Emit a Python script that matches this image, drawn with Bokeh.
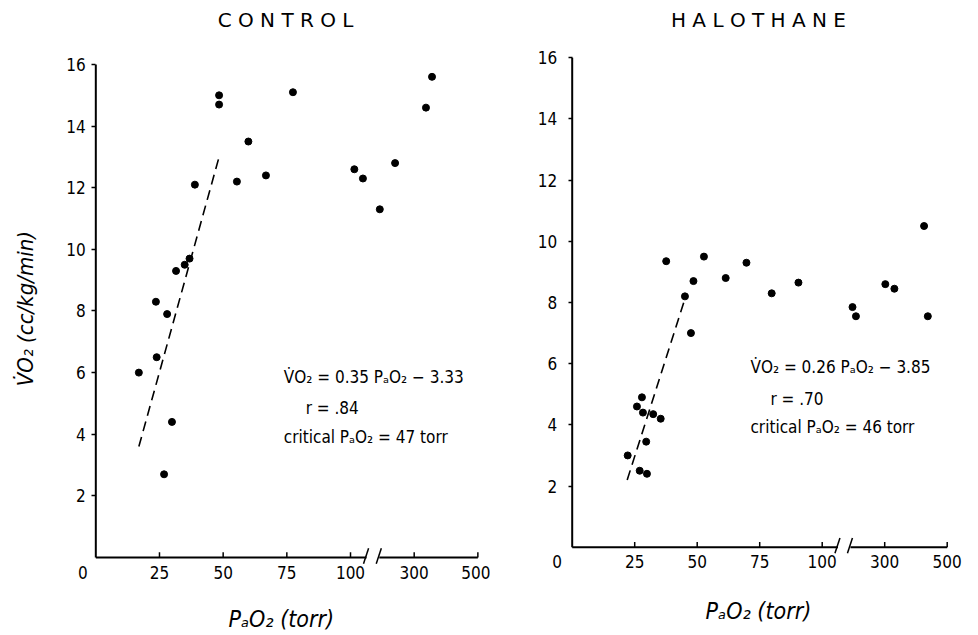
import math
from bokeh.plotting import figure
from bokeh.layouts import row
from bokeh.models import Range1d, FixedTicker, Label
from bokeh.embed import file_html
from bokeh.resources import INLINE

# ---------------- data (PaO2 in torr, VO2 in cc/kg/min) ----------------
x_tick_values = [0, 25, 50, 75, 100, 300, 500]
x_tick_labels = ["0", "25", "50", "75", "100", "300", "500"]
y_tick_values = [2, 4, 6, 8, 10, 12, 14, 16]

control_pao2 = [16.9, 23.6, 23.9, 26.8, 28.0, 29.9, 31.5, 34.9, 36.8, 38.9,
                48.4, 48.4, 55.4, 59.9, 66.8, 77.4, 112, 139, 192, 240, 337, 356]
control_vo2 = [6.0, 8.3, 6.5, 2.7, 7.9, 4.4, 9.3, 9.5, 9.7, 12.1,
               15.0, 14.7, 12.2, 13.5, 12.4, 15.1, 12.6, 12.3, 11.3, 12.8, 14.6, 15.6]
control_fit_pao2 = [16.9, 48.4]
control_fit_vo2 = [3.6, 13.0]

halo_pao2 = [22.2, 25.9, 27.0, 27.9, 28.3, 29.6, 29.9, 32.4, 35.4, 37.6, 45.1, 47.5,
             48.5, 52.7, 61.4, 69.7, 79.8, 90.5, 197, 208, 302, 331, 426, 438]
halo_vo2 = [3.0, 4.6, 2.5, 4.9, 4.4, 3.45, 2.4, 4.35, 4.2, 9.35, 8.2, 7.0,
            8.7, 9.5, 8.8, 9.3, 8.3, 8.65, 7.85, 7.55, 8.6, 8.45, 10.5, 7.55]
halo_fit_pao2 = [22.0, 45.0]
halo_fit_vo2 = [2.2, 8.1]

control_eq = ["V\u0307O\u2082 = 0.35 P\u2090O\u2082 \u2212 3.33", "r = .84",
              "critical  P\u2090O\u2082 = 47 torr"]
halo_eq = ["V\u0307O\u2082 = 0.26 P\u2090O\u2082 \u2212 3.85", "r = .70",
           "critical  P\u2090O\u2082 = 46 torr"]

x_title = "P\u2090O\u2082  (torr)"
y_title = "V\u0307O\u2082  (cc/kg/min)"

FONT = "Liberation Sans Narrow, DejaVu Sans Condensed, sans-serif"
BREAK_LO, BREAK_HI = 106.3, 111.3


def xpos(t, zero_shift):
    """Broken axis: linear 0-100, then compressed 100-500 (200 torr per 25 units).
    The '0' label of the original sits a little left of the axis origin."""
    if t == 0:
        return zero_shift
    v = t if t <= 100 else 100 + (t - 100) / 8.0
    return int(v) if float(v).is_integer() else v


def text(p, x, y, s, size="17px", align="left", style="normal", angle=0.0, font=FONT):
    p.add_layout(Label(x=x, y=y, text=s, text_font=font, text_font_size=size,
                       text_font_style=style, text_align=align, text_baseline="middle",
                       text_color="black", angle=angle))


def panel(width, xr, yr, zero_shift, px, py, fx, fy, title, title_xy, eq, eq_xy,
          xlab_xy, ylab_xy, ytick_standoff, xtick_standoff):
    p = figure(width=width, height=635, output_backend="svg", toolbar_location=None,
               x_range=Range1d(*xr), y_range=Range1d(*yr),
               min_border_left=0, min_border_right=0, min_border_top=0,
               min_border_bottom=0, sizing_mode="fixed")
    p.outline_line_color = None
    p.grid.visible = False
    p.background_fill_color = "white"
    p.border_fill_color = "white"

    # y axis drawn at x = 0
    ya = p.yaxis[0]
    ya.fixed_location = 0
    ya.ticker = FixedTicker(ticks=y_tick_values)
    ya.axis_line_color = None
    ya.major_tick_out = 4
    ya.major_tick_in = 0
    ya.major_tick_line_width = 1.5
    ya.minor_tick_line_color = None
    ya.major_label_text_font = FONT
    ya.major_label_text_font_size = "17px"
    ya.major_label_text_color = "black"
    ya.major_label_standoff = ytick_standoff

    # x axis drawn at y = 0
    xa = p.xaxis[0]
    xa.fixed_location = 0
    tick_pos = [xpos(v, zero_shift) for v in x_tick_values]
    xa.ticker = FixedTicker(ticks=tick_pos)
    xa.major_label_overrides = {tp: lab for tp, lab in zip(tick_pos, x_tick_labels)}
    xa.axis_line_color = None
    xa.major_tick_line_color = None
    xa.minor_tick_line_color = None
    xa.major_tick_out = 0
    xa.major_tick_in = 0
    xa.major_label_standoff = xtick_standoff
    xa.major_label_text_font = FONT
    xa.major_label_text_font_size = "17px"
    xa.major_label_text_color = "black"

    # axis lines (x axis broken between 100 and 300)
    p.segment(x0=[0, BREAK_HI, 0], y0=[0, 0, 0], x1=[BREAK_LO, 150, 0], y1=[0, 0, 16],
              line_color="black", line_width=2)
    inner = tick_pos[1:]
    p.segment(x0=inner, y0=[0] * len(inner), x1=inner, y1=[0.17] * len(inner),
              line_color="black", line_width=1.5)
    p.segment(x0=[BREAK_LO - 1.2, BREAK_HI - 1.2], y0=[-0.2, -0.2],
              x1=[BREAK_LO + 0.8, BREAK_HI + 0.8], y1=[0.3, 0.3],
              line_color="black", line_width=1.5)

    # fit line and points
    p.line([xpos(v, zero_shift) for v in fx], fy, line_color="black", line_width=1.6,
           line_dash="10 6")
    p.scatter([xpos(v, zero_shift) for v in px], py, size=7, color="black", marker="circle")

    # texts
    text(p, title_xy[0], title_xy[1], title, size="20px", align="center",
         font="DejaVu Sans")
    for (ex, ey), t in zip(eq_xy, eq):
        text(p, ex, ey, t)
    text(p, xlab_xy[0], xlab_xy[1], x_title, size="23px", align="center", style="italic")
    if ylab_xy is not None:
        text(p, ylab_xy[0], ylab_xy[1], y_title, size="22px", align="center",
             style="italic", angle=math.pi / 2)
    return p


p1 = panel(490, (-37.42, 154.96), (-2.532, 18.077), -5.1,
           control_pao2, control_vo2, control_fit_pao2, control_fit_vo2,
           "C O N T R O L", (74.5, 17.45), control_eq,
           [(73.8, 5.85), (82.4, 4.84), (73.8, 3.9)],
           (74.1, -2.01), (-27.6, 8.18), 6, 9)
p2 = panel(488, (-32.68, 162.52), (-2.887, 17.873), -6.0,
           halo_pao2, halo_vo2, halo_fit_pao2, halo_fit_vo2,
           "H A L O T H A N E", (74.5, 17.23), halo_eq,
           [(71.3, 5.88), (79.3, 4.86), (71.3, 3.93)],
           (75.8, -2.1), None, 11, 8)

layout = row(p1, p2, sizing_mode="fixed")
open("out.html", "w").write(file_html(layout, INLINE))
